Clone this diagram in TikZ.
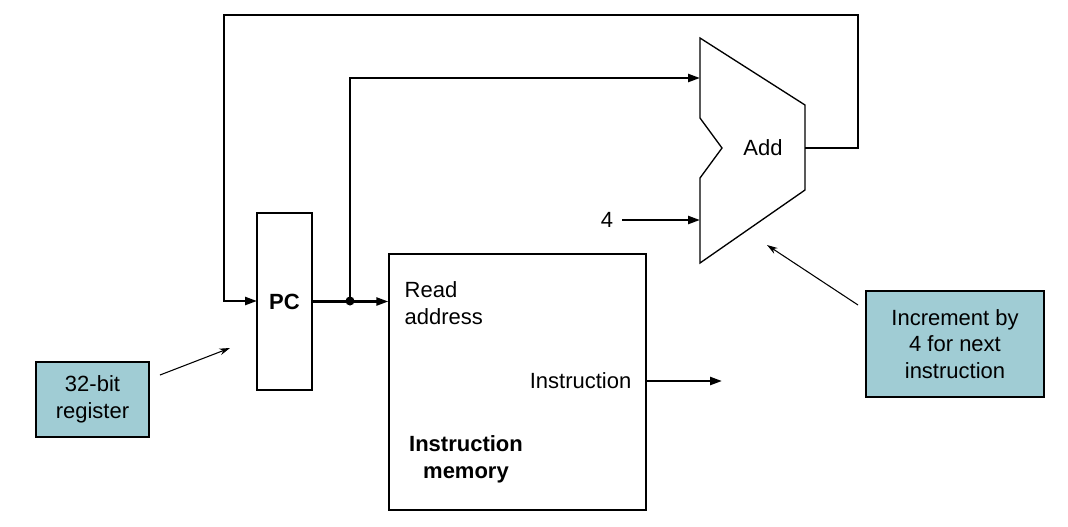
\documentclass[tikz,border=0pt]{standalone}
\usepackage{fontspec}
\setmainfont{Liberation Sans}
\usetikzlibrary{arrows.meta}
\definecolor{callout}{HTML}{A0CCD4}
\begin{document}
\begin{tikzpicture}[x=0.75pt,y=-0.75pt,
  font=\fontsize{16.5}{20}\selectfont,
  wire/.style={line width=1.8pt,-{Triangle[length=9pt,width=6pt]}},
  plain/.style={line width=1.8pt},
  box/.style={draw,line width=1pt,inner sep=0pt},
  note/.style={draw,line width=0.8pt,fill=callout,align=center,inner sep=0pt},
  thin/.style={line width=0.8pt,-{Stealth[length=8pt,width=5pt]}}]
\useasboundingbox (0,0) rectangle (1068,526);
\node[box,minimum width=41.25pt,minimum height=132.75pt] (pc) at (284.5,301.5) {\textbf{PC}};
\node[box,minimum width=192.75pt,minimum height=192pt] (mem) at (517.5,382) {};
\node[anchor=west,align=left] (ra) at (400,303) {Read\\address};
\node[anchor=east] (ins) at (636,381) {Instruction};
\node[align=center] (im) at (466,459) {\textbf{Instruction}\\\textbf{memory}};
\draw[line width=1pt] (700,38) -- (805,105) -- (805,190) -- (700,263) -- (700,178) -- (722,148) -- (700,118) -- cycle;
\node (add) at (763,148) {Add};
\coordinate (addin1) at (700,78);
\coordinate (addin2) at (700,220);
\coordinate (addout) at (805,148);
\node (four) at (607,220) {4};
\coordinate (dot) at (350,301);
\coordinate (insout) at (722,381);
\coordinate (pcin) at (257,301);
\draw[wire] (pc.east) -- (mem.west |- pc.east);
\fill (dot) circle (4.5);
\draw[wire] (dot) -- (350,78) -- (addin1);
\draw[wire] (622,220) -- (addin2);
\draw[wire] (addout) -- (858,148) -- (858,15) -- (224,15) -- (224,301) -- (pcin);
\draw[wire] (646,381) -- (insout);
\node[note,minimum width=84.75pt,minimum height=56.25pt] (n1) at (92.5,399.5) {32-bit\\register};
\node[note,minimum width=133.5pt,minimum height=79.5pt] (n2) at (955,344) {Increment by\\4 for next\\instruction};
\coordinate (t1) at (230,348);
\coordinate (t2) at (767,245);
\draw[thin] (160,375) -- (t1);
\draw[thin] (858,305) -- (t2);
\end{tikzpicture}
\end{document}
